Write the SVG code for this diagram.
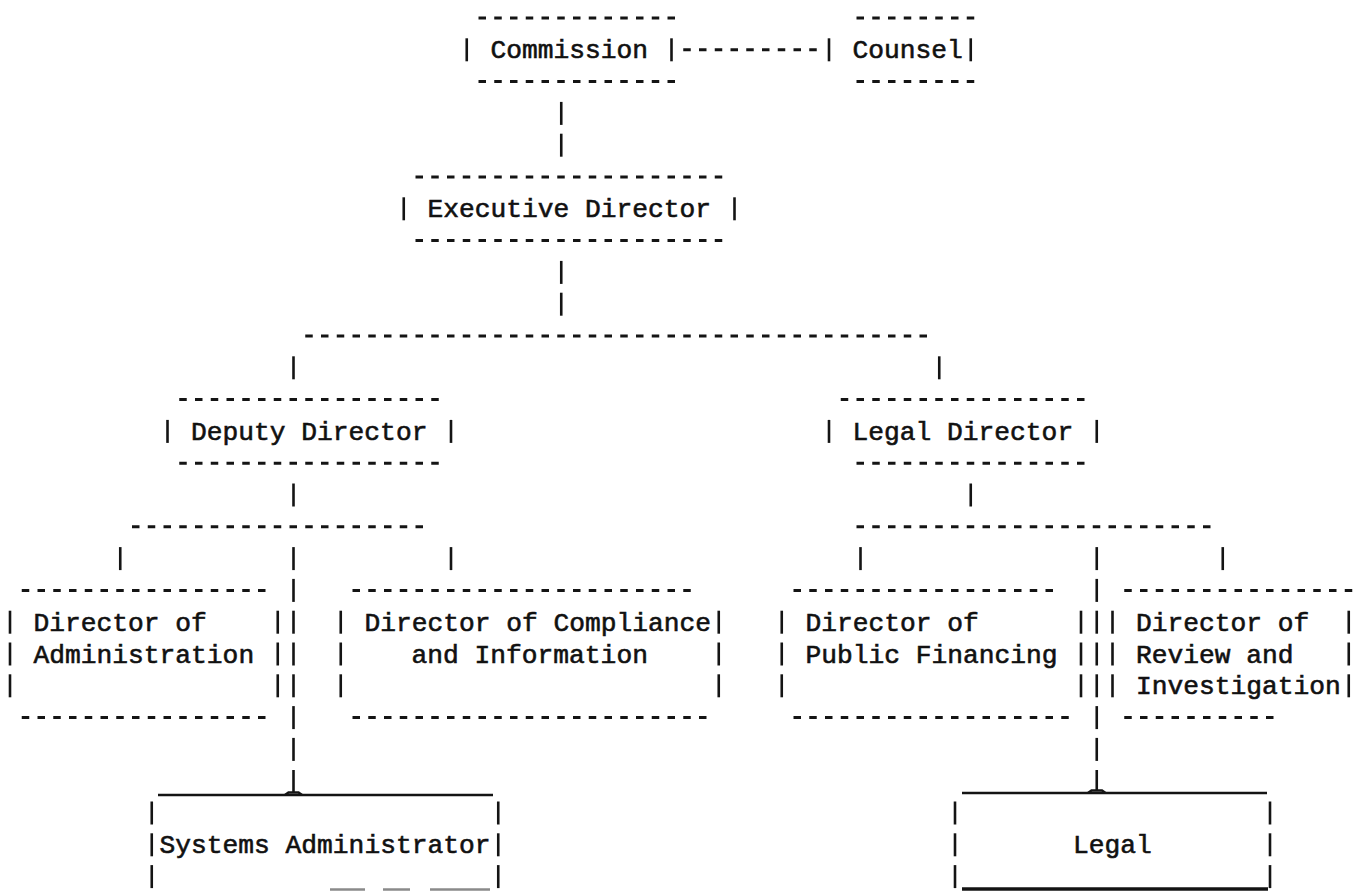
<svg xmlns="http://www.w3.org/2000/svg" xmlns:xlink="http://www.w3.org/1999/xlink" width="1361" height="891" viewBox="0 0 1361 891">
<style>
.t{font-family:"Liberation Mono","Courier New",monospace;font-size:26.25px;fill:#111;stroke:#111;stroke-width:0.6}
.d{stroke:#141414;stroke-width:3;stroke-dasharray:7.5 8.25;fill:none}
.b{stroke:#141414;stroke-width:2.6}
.s{stroke:#141414;stroke-width:2.6;fill:none}
</style>
<defs>
<line id="bar" x1="0" y1="-11.5" x2="0" y2="11.5" class="b"/>
</defs>
<rect width="1361" height="891" fill="#fff"/>
<g id="connectors">
<line class="d" x1="683.25" y1="49.8" x2="821" y2="49.8"/>
<use href="#bar" x="561.25" y="113.4"/><use href="#bar" x="561.25" y="145.2"/>
<use href="#bar" x="561.25" y="272.4"/><use href="#bar" x="561.25" y="304.2"/>
<line class="d" x1="305.25" y1="336" x2="927.5" y2="336"/>
<use href="#bar" x="293.5" y="367.8"/><use href="#bar" x="939.25" y="367.8"/>
<use href="#bar" x="293.5" y="495"/>
<line class="d" x1="132" y1="526.8" x2="423.5" y2="526.8"/>
<use href="#bar" x="120.25" y="558.6"/><use href="#bar" x="293.5" y="558.6"/><use href="#bar" x="451" y="558.6"/>
<use href="#bar" x="970.75" y="495"/>
<line class="d" x1="856.5" y1="526.8" x2="1211" y2="526.8"/>
<use href="#bar" x="860.5" y="558.6"/><use href="#bar" x="1096.75" y="558.6"/><use href="#bar" x="1222.75" y="558.6"/>
<use href="#bar" x="293.5" y="590.4"/><use href="#bar" x="293.5" y="622.2"/><use href="#bar" x="293.5" y="654"/><use href="#bar" x="293.5" y="685.8"/><use href="#bar" x="293.5" y="717.6"/><use href="#bar" x="293.5" y="749.4"/>
<line class="b" x1="293.5" y1="770" x2="293.5" y2="793"/>
<path class="s" d="M285,795 L288.5,792.5 H298.5 L302,795"/>
<use href="#bar" x="1096.75" y="590.4"/><use href="#bar" x="1096.75" y="622.2"/><use href="#bar" x="1096.75" y="654"/><use href="#bar" x="1096.75" y="685.8"/><use href="#bar" x="1096.75" y="717.6"/><use href="#bar" x="1096.75" y="749.4"/>
<line class="b" x1="1096.75" y1="770" x2="1096.75" y2="791"/>
<path class="s" d="M1088,793 L1091.5,790.5 H1102 L1105.5,793"/>
</g>
<g id="commission">
<line class="d" x1="478.5" y1="18" x2="675.5" y2="18"/>
<line class="d" x1="478.5" y1="81.6" x2="675.5" y2="81.6"/>
<use href="#bar" x="466.75" y="49.8"/><use href="#bar" x="671.5" y="49.8"/>
<text class="t" x="490.4" y="58.3">Commission</text>
</g>
<g id="counsel">
<line class="d" x1="856.5" y1="18" x2="974.75" y2="18"/>
<line class="d" x1="856.5" y1="81.6" x2="974.75" y2="81.6"/>
<use href="#bar" x="829" y="49.8"/><use href="#bar" x="970.75" y="49.8"/>
<text class="t" x="852.6" y="58.3">Counsel</text>
</g>
<g id="executive-director">
<line class="d" x1="415.5" y1="177" x2="722.75" y2="177"/>
<line class="d" x1="415.5" y1="240.6" x2="722.75" y2="240.6"/>
<use href="#bar" x="403.75" y="208.8"/><use href="#bar" x="734.5" y="208.8"/>
<text class="t" x="427.4" y="217.3">Executive Director</text>
</g>
<g id="deputy-director">
<line class="d" x1="179.25" y1="399.6" x2="439.25" y2="399.6"/>
<line class="d" x1="179.25" y1="463.2" x2="439.25" y2="463.2"/>
<use href="#bar" x="167.5" y="431.4"/><use href="#bar" x="451" y="431.4"/>
<text class="t" x="191.1" y="439.9">Deputy Director</text>
</g>
<g id="legal-director">
<line class="d" x1="840.75" y1="399.6" x2="1085" y2="399.6"/>
<line class="d" x1="856.5" y1="463.2" x2="1085" y2="463.2"/>
<use href="#bar" x="829" y="431.4"/><use href="#bar" x="1096.75" y="431.4"/>
<text class="t" x="852.6" y="439.9">Legal Director</text>
</g>
<g id="director-of-administration">
<line class="d" x1="21.75" y1="590.4" x2="266" y2="590.4"/>
<line class="d" x1="21.75" y1="717.6" x2="266" y2="717.6"/>
<use href="#bar" x="10" y="622.2"/><use href="#bar" x="10" y="654"/><use href="#bar" x="10" y="685.8"/>
<use href="#bar" x="277.75" y="622.2"/><use href="#bar" x="277.75" y="654"/><use href="#bar" x="277.75" y="685.8"/>
<text class="t" x="33.6" y="630.7">Director of</text>
<text class="t" x="33.6" y="662.5">Administration</text>
</g>
<g id="director-of-compliance">
<line class="d" x1="352.5" y1="590.4" x2="691.25" y2="590.4"/>
<line class="d" x1="352.5" y1="717.6" x2="707" y2="717.6"/>
<use href="#bar" x="340.75" y="622.2"/><use href="#bar" x="340.75" y="654"/><use href="#bar" x="340.75" y="685.8"/>
<use href="#bar" x="718.75" y="622.2"/><use href="#bar" x="718.75" y="654"/><use href="#bar" x="718.75" y="685.8"/>
<text class="t" x="364.4" y="630.7">Director of Compliance</text>
<text class="t" x="411.6" y="662.5">and Information</text>
</g>
<g id="director-of-public-financing">
<line class="d" x1="793.5" y1="590.4" x2="1053.5" y2="590.4"/>
<line class="d" x1="793.5" y1="717.6" x2="1069.25" y2="717.6"/>
<use href="#bar" x="781.75" y="622.2"/><use href="#bar" x="781.75" y="654"/><use href="#bar" x="781.75" y="685.8"/>
<use href="#bar" x="1081" y="622.2"/><use href="#bar" x="1081" y="654"/><use href="#bar" x="1081" y="685.8"/>
<text class="t" x="805.4" y="630.7">Director of</text>
<text class="t" x="805.4" y="662.5">Public Financing</text>
</g>
<g id="director-of-review">
<line class="d" x1="1124.25" y1="590.4" x2="1352.75" y2="590.4"/>
<line class="d" x1="1124.25" y1="717.6" x2="1274" y2="717.6"/>
<use href="#bar" x="1112.5" y="622.2"/><use href="#bar" x="1112.5" y="654"/><use href="#bar" x="1112.5" y="685.8"/>
<use href="#bar" x="1348.75" y="622.2"/><use href="#bar" x="1348.75" y="654"/><use href="#bar" x="1348.75" y="685.8"/>
<text class="t" x="1136.1" y="630.7">Director of</text>
<text class="t" x="1136.1" y="662.5">Review and</text>
<text class="t" x="1136.1" y="694.3">Investigation</text>
</g>
<g id="systems-administrator">
<line class="s" x1="158" y1="795" x2="493" y2="795"/>
<use href="#bar" x="151.75" y="813"/><use href="#bar" x="151.75" y="844.8"/><use href="#bar" x="151.75" y="876.6"/>
<use href="#bar" x="498.25" y="813"/><use href="#bar" x="498.25" y="844.8"/><use href="#bar" x="498.25" y="876.6"/>
<text class="t" x="159.6" y="853.3">Systems Administrator</text>
<path d="M330,889.5H365M383,889.5H410M430,889.5H490" stroke="#8a8a8a" stroke-width="2.5" fill="none"/>
</g>
<g id="legal">
<line class="s" x1="962" y1="793" x2="1267" y2="793"/>
<use href="#bar" x="955" y="813"/><use href="#bar" x="955" y="844.8"/><use href="#bar" x="955" y="876.6"/>
<use href="#bar" x="1270" y="813"/><use href="#bar" x="1270" y="844.8"/><use href="#bar" x="1270" y="876.6"/>
<text class="t" x="1073.1" y="853.3">Legal</text>
<line x1="962" y1="889" x2="1268" y2="889" stroke="#141414" stroke-width="3.5"/>
</g>
</svg>
